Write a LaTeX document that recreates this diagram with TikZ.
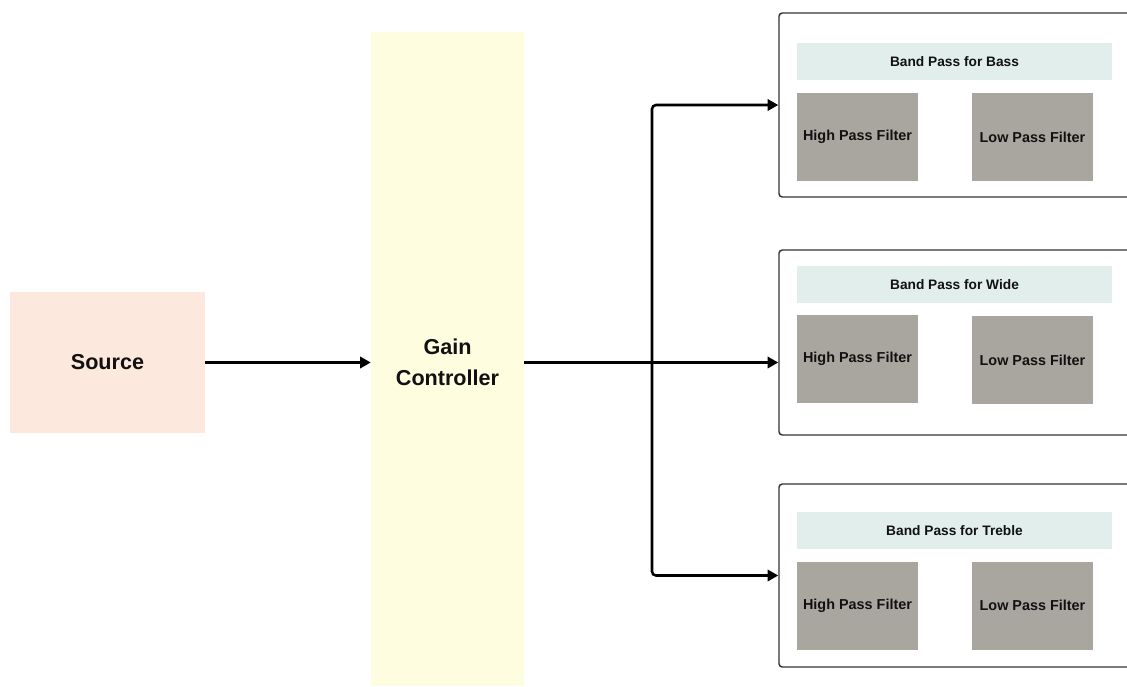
\documentclass[tikz,border=0pt]{standalone}
\usepackage{fontspec}
\setmainfont{Liberation Sans}
\usetikzlibrary{arrows.meta}
\definecolor{srcfill}{HTML}{FDE8DD}
\definecolor{gainfill}{HTML}{FEFDE0}
\definecolor{headfill}{HTML}{E2EEEC}
\definecolor{filtfill}{HTML}{A8A69E}
\definecolor{boxline}{HTML}{333333}
\definecolor{txt}{HTML}{111111}
\tikzset{
  big/.style={font=\fontsize{16.2}{23}\selectfont\bfseries, text=txt, align=center, inner sep=0pt},
  bandbox/.style={draw=boxline, line width=1.1pt, rounded corners=2.5pt, fill=white,
    minimum width=267pt, minimum height=138pt, inner sep=0pt},
  headbox/.style={fill=headfill, minimum width=236.25pt, minimum height=27.75pt, inner sep=0pt,
    font=\fontsize{10.3}{12}\selectfont\bfseries, text=txt},
  filtbox/.style={fill=filtfill, minimum width=90.75pt, minimum height=66pt, inner sep=0pt,
    font=\fontsize{10.8}{12}\selectfont\bfseries, text=txt},
  arr/.style={line width=1.9pt, -{Triangle[length=8pt,width=8.5pt]}},
  wire/.style={line width=1.9pt}
}
\begin{document}
\begin{tikzpicture}[x=0.75pt,y=-0.75pt]
\clip (0,0) rectangle (1127,686);
\fill[white] (0,0) rectangle (1127,686);
% source and gain
\node[big, fill=srcfill, minimum width=146.25pt, minimum height=105.75pt] (src) at (107.5,362.5) {Source};
\node[fill=gainfill, minimum width=114.75pt, minimum height=490.5pt, inner sep=0pt] (gain) at (447.5,359) {};
\node[big] (gaint) at (447.5,362) {Gain\\Controller};
% band boxes
\node[bandbox, minimum height=138pt] (b1) at (957,105) {};
\node[bandbox, minimum height=138.75pt] (b2) at (957,342.5) {};
\node[bandbox, minimum height=137.25pt] (b3) at (957,575.5) {};
% box 1
\node[headbox] (h1) at (954.5,61.5) {Band Pass for Bass};
\node[filtbox] (hp1) at (857.5,137) {High Pass Filter};
\node[filtbox] (lp1) at (1032.5,137) {Low Pass Filter};
% box 2
\node[headbox] (h2) at (954.5,284.5) {Band Pass for Wide};
\node[filtbox] (hp2) at (857.5,359) {High Pass Filter};
\node[filtbox] (lp2) at (1032.5,360) {Low Pass Filter};
% box 3
\node[headbox] (h3) at (954.5,530.5) {Band Pass for Treble};
\node[filtbox] (hp3) at (857.5,605.5) {High Pass Filter};
\node[filtbox] (lp3) at (1032.5,605.5) {Low Pass Filter};
% connectors
\coordinate (j) at (652,362.5);
\draw[arr] (src.east) -- (gain.west |- src.east);
\draw[arr] (gain.east |- j) -- (b2.west |- j);
\draw[arr, rounded corners=3pt] (j) |- (b1.west);
\draw[arr, rounded corners=3pt] (j) |- (b3.west);
\end{tikzpicture}
\end{document}
